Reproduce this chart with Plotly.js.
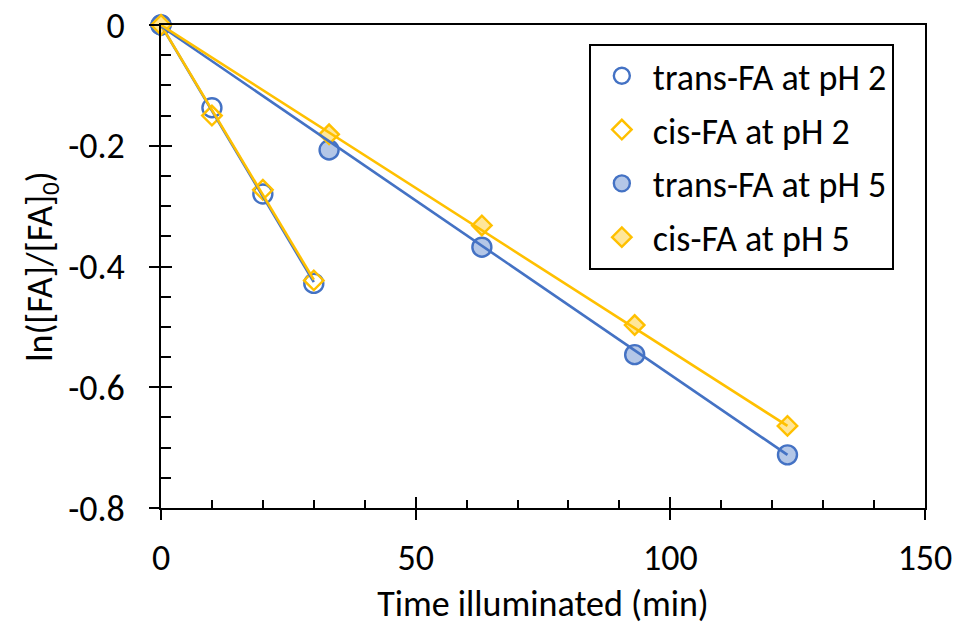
<!DOCTYPE html>
<html>
<head>
<meta charset="utf-8">
<script src="https://cdn.plot.ly/plotly-3.0.1.min.js"></script>
<style>html,body{margin:0;padding:0;background:#fff;}#chart{width:958px;height:626px;}</style>
</head>
<body>
<div id="chart"></div>
<script>
// Data
var seriesNames = ["trans-FA at pH 2", "cis-FA at pH 2", "trans-FA at pH 5", "cis-FA at pH 5"];
var timePH2 = [0, 10, 20, 30];
var transPH2 = [0, -0.137, -0.280, -0.428];
var cisPH2 = [0, -0.150, -0.273, -0.423];
var timePH5 = [0, 33, 63, 93, 123];
var transPH5 = [0, -0.207, -0.368, -0.546, -0.712];
var cisPH5 = [0, -0.181, -0.332, -0.497, -0.664];
// Trendline endpoints
var fitXPH2 = [0, 30];
var fitTransPH2 = [0, -0.426];
var fitCisPH2 = [0, -0.422];
var fitXPH5 = [0, 123];
var fitTransPH5 = [-0.002, -0.712];
var fitCisPH5 = [0, -0.664];
var yTickVals = [0, -0.2, -0.4, -0.6, -0.8];
var yTickText = ["0", "-0.2", "-0.4", "-0.6", "-0.8"];

var BLUE = "#4472C4", GOLD = "#FFC000";
var FONT = "Carlito, Lato, 'Open Sans', sans-serif";
var FS = 36;

function markers(x, y, name, symbol, color, fill, size, gi) {
  return {x: x, y: y, name: name, type: "scatter", mode: "markers", cliponaxis: false,
    legendgroup: "g" + gi, legendrank: gi,
    marker: {symbol: symbol, size: size, color: fill, line: {color: color, width: 2.4}},
    xaxis: "x", yaxis: "y"};
}
function fit(x, y, color) {
  return {x: x, y: y, type: "scatter", mode: "lines", showlegend: false, cliponaxis: false,
    line: {color: color, width: 2.6}, hoverinfo: "skip", xaxis: "x", yaxis: "y"};
}

var data = [
  markers(timePH2, transPH2, seriesNames[0], "circle", BLUE, "rgba(255,255,255,0)", 19, 1),
  markers(timePH2, cisPH2, seriesNames[1], "diamond", GOLD, "rgba(255,255,255,0)", 15, 2),
  markers(timePH5, transPH5, seriesNames[2], "circle", BLUE, "#B4C7E7", 19, 3),
  markers(timePH5, cisPH5, seriesNames[3], "diamond", GOLD, "#FFE699", 15, 4),
  fit(fitXPH2, fitTransPH2, BLUE),
  fit(fitXPH2, fitCisPH2, GOLD),
  fit(fitXPH5, fitTransPH5, BLUE),
  fit(fitXPH5, fitCisPH5, GOLD),
  // invisible trace to activate the overlay axes for crossing ticks
  {x: [0], y: [0], type: "scatter", mode: "markers", marker: {opacity: 0}, showlegend: false,
   hoverinfo: "skip", xaxis: "x2", yaxis: "y2"}
];

var layout = {
  width: 958, height: 626,
  margin: {l: 161, r: 33, t: 25, b: 118},
  paper_bgcolor: "#fff", plot_bgcolor: "#fff",
  font: {family: FONT, size: FS, color: "#000"},
  showlegend: true,
  legend: {x: 0.56, y: 0.961, xanchor: "left", yanchor: "top",
    bgcolor: "#fff", bordercolor: "#000", borderwidth: 2,
    font: {family: FONT, size: FS, color: "#000"},
    traceorder: "grouped", tracegroupgap: 4, itemwidth: 52},
  xaxis: {range: [0, 150], dtick: 50, tick0: 0, showgrid: false, zeroline: false,
    showline: true, linecolor: "#000", linewidth: 2, mirror: true,
    ticks: "inside", ticklen: 11, tickwidth: 2, tickcolor: "#000",
    minor: {dtick: 10, ticks: "inside", ticklen: 8, tickwidth: 2, tickcolor: "#000", showgrid: false},
    tickfont: {family: FONT, size: FS}, ticklabelstandoff: 17,
    title: {text: "Time illuminated (min)", font: {family: FONT, size: FS}, standoff: 15}},
  xaxis2: {range: [0, 150], dtick: 50, tick0: 0, overlaying: "x", anchor: "y2", side: "bottom",
    showgrid: false, zeroline: false, showline: false, showticklabels: false,
    ticks: "outside", ticklen: 11, tickwidth: 2, tickcolor: "#000"},
  yaxis: {range: [-0.8, 0], tickmode: "array", tickvals: yTickVals, ticktext: yTickText,
    showgrid: false, zeroline: false,
    showline: true, linecolor: "#000", linewidth: 2, mirror: true,
    ticks: "inside", ticklen: 11, tickwidth: 2, tickcolor: "#000",
    minor: {tickmode: "linear", tick0: 0, dtick: 0.05, ticks: "inside", ticklen: 10, tickwidth: 2, tickcolor: "#000", showgrid: false},
    tickfont: {family: FONT, size: FS}, ticklabelstandoff: 27,
    title: {text: "ln([FA]/[FA]<sub>0</sub>)", font: {family: FONT, size: FS}, standoff: 5}},
  yaxis2: {range: [-0.8, 0], dtick: 0.2, tick0: 0, overlaying: "y", anchor: "x2", side: "left",
    showgrid: false, zeroline: false, showline: false, showticklabels: false,
    ticks: "outside", ticklen: 11, tickwidth: 2, tickcolor: "#000"}
};

Plotly.newPlot("chart", data, layout, {displayModeBar: false, staticPlot: true});
</script>
</body>
</html>
